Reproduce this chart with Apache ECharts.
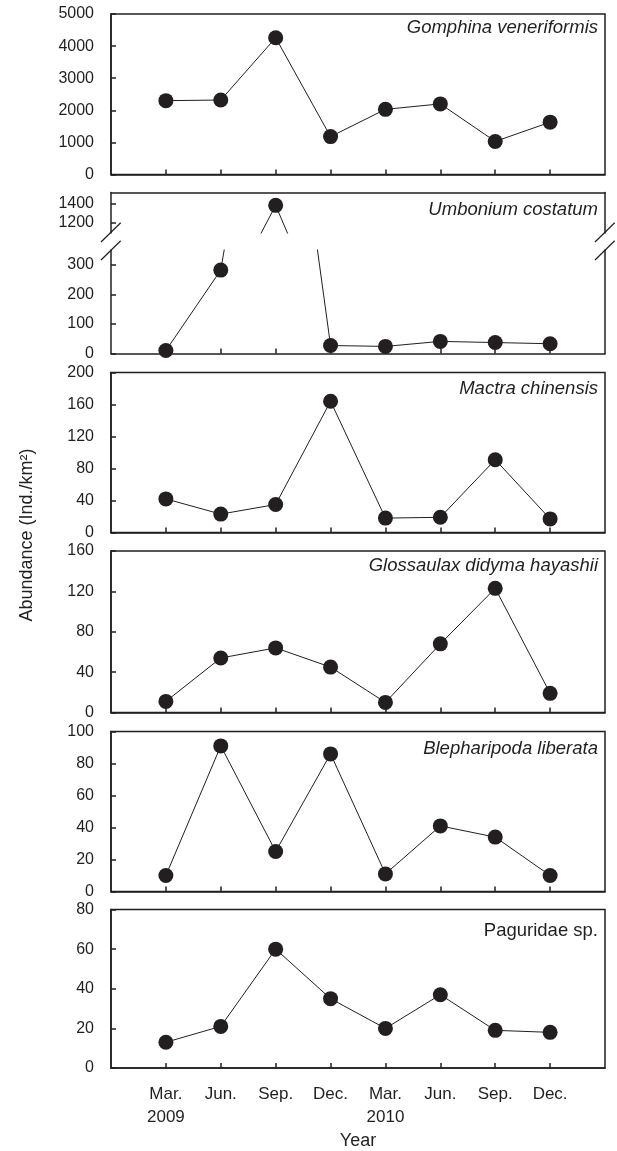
<!DOCTYPE html>
<html>
<head>
<meta charset="utf-8">
<script src="https://cdn.jsdelivr.net/npm/echarts@6/dist/echarts.min.js"></script>
<style>
html,body{margin:0;padding:0;background:#fff;}
#chart{width:617px;height:1151px;}
</style>
</head>
<body>
<div id="chart"></div>
<script>
// ---- data ----
const months = ['Mar.\n2009', 'Jun.', 'Sep.', 'Dec.', 'Mar.\n2010', 'Jun.', 'Sep.', 'Dec.'];
const gomphina = [2300, 2320, 4260, 1180, 2030, 2200, 1030, 1630];
const umbonium = [10, 282, 1380, 27, 24, 41, 37, 33];
const mactra = [42, 23, 35, 164, 18, 19, 91, 17];
const glossaulax = [11, 54, 64, 45, 10, 68, 123, 19];
const blepharipoda = [10, 91, 25, 86, 11, 41, 34, 10];
const paguridae = [13, 21, 60, 35, 20, 37, 19, 18];

const ticksGomphina = [0, 1000, 2000, 3000, 4000, 5000];
const ticksUmbUpper = [1200, 1400];
const ticksUmbLower = [0, 100, 200, 300];
const ticksMactra = [0, 40, 80, 120, 160, 200];
const ticksGloss = [0, 40, 80, 120, 160];
const ticksBleph = [0, 20, 40, 60, 80, 100];
const ticksPag = [0, 20, 40, 60, 80];
const xTicks = [1, 2, 3, 4, 5, 6, 7, 8];

const speciesNames = ['Gomphina veneriformis', 'Umbonium costatum', 'Mactra chinensis',
  'Glossaulax didyma hayashii', 'Blepharipoda liberata', 'Paguridae sp.'];

// ---- layout ----
const FONT = "'Liberation Sans', Arial, sans-serif";
const INK = '#231f20';
const LEFT = 111, RIGHT = 605;
const W = RIGHT - LEFT;

const chart = echarts.init(document.getElementById('chart'), null, {renderer: 'canvas'});

const grids = [], xAxes = [], yAxes = [], series = [], graphics = [];

function pts(arr) { return arr.map((v, i) => [i + 1, v]); }

function addGrid(top, bottom, border) {
  grids.push({left: LEFT, width: W, top: top, height: bottom - top,
    show: border, borderColor: INK, borderWidth: 1.5, backgroundColor: 'transparent'});
  return grids.length - 1;
}

function addX(gi, opts) {
  const base = {
    gridIndex: gi, type: 'value', min: 0, max: 9, interval: 1,
    position: 'bottom',
    axisLine: {show: true, lineStyle: {color: INK, width: 1.5}},
    axisTick: {show: true, inside: true, length: 5, customValues: xTicks, lineStyle: {color: INK, width: 1.5}},
    axisLabel: {show: false},
    splitLine: {show: false}
  };
  xAxes.push(Object.assign(base, opts || {}));
  return xAxes.length - 1;
}

function addY(gi, min, max, ticks, opts) {
  const base = {
    gridIndex: gi, type: 'value', min: min, max: max,
    axisLine: {show: true, lineStyle: {color: INK, width: 1.5}},
    axisTick: {show: true, inside: true, length: 5, customValues: ticks, lineStyle: {color: INK, width: 1.5}},
    axisLabel: {show: true, customValues: ticks, margin: 17, fontSize: 16, color: INK, fontFamily: FONT,
      formatter: function (v) { return String(v); }},
    splitLine: {show: false}
  };
  yAxes.push(Object.assign(base, opts || {}));
  return yAxes.length - 1;
}

function addSeries(xi, yi, data) {
  series.push({
    type: 'line', xAxisIndex: xi, yAxisIndex: yi, data: pts(data),
    clip: true, symbol: 'circle', symbolSize: 15,
    lineStyle: {color: INK, width: 1},
    itemStyle: {color: INK},
    animation: false, z: 3
  });
}

function addTitle(text, y, italic) {
  graphics.push({type: 'text', x: 598, y: y, z: 10,
    style: {text: text, fontSize: 18.5, fontStyle: italic ? 'italic' : 'normal', fontFamily: FONT,
      fill: INK, textAlign: 'right', textVerticalAlign: 'middle'}});
}

// Panel 1
let g = addGrid(14, 174.5, true);
let xi = addX(g);
let yi = addY(g, 0, 5000, ticksGomphina);
addSeries(xi, yi, gomphina);
addTitle(speciesNames[0], 27.5, true);

// Panel 2 (broken axis): upper part
const UP_TOP = 192.5, UP_BOT = 233, LO_TOP = 250, LO_BOT = 353.5;
g = addGrid(UP_TOP, UP_BOT, false);
xi = addX(g, {position: 'top', axisTick: {show: false}});
yi = addY(g, 1090, 1515, ticksUmbUpper);
addY(g, 1090, 1515, [], {position: 'right', axisTick: {show: false}, axisLabel: {show: false}});
addSeries(xi, yi, umbonium);
// lower part
g = addGrid(LO_TOP, LO_BOT, false);
xi = addX(g);
yi = addY(g, 0, 350, ticksUmbLower);
addY(g, 0, 350, [], {position: 'right', axisTick: {show: false}, axisLabel: {show: false}});
addSeries(xi, yi, umbonium);
addTitle(speciesNames[1], 210, true);
// break marks
[LEFT, RIGHT].forEach(function (bx) {
  [[242, 222.7], [260, 240.7]].forEach(function (yy) {
    graphics.push({type: 'line', z: 10,
      shape: {x1: bx - 10, y1: yy[0], x2: bx + 9.7, y2: yy[1]},
      style: {stroke: INK, lineWidth: 1.2}});
  });
});

// Panel 3
g = addGrid(372.5, 532.5, true);
xi = addX(g);
yi = addY(g, 0, 200, ticksMactra);
addSeries(xi, yi, mactra);
addTitle(speciesNames[2], 388.5, true);

// Panel 4
g = addGrid(551, 712.5, true);
xi = addX(g);
yi = addY(g, 0, 160, ticksGloss);
addSeries(xi, yi, glossaulax);
addTitle(speciesNames[3], 566, true);

// Panel 5
g = addGrid(731.5, 891.5, true);
xi = addX(g);
yi = addY(g, 0, 100, ticksBleph);
addSeries(xi, yi, blepharipoda);
addTitle(speciesNames[4], 748.5, true);

// Panel 6
g = addGrid(909.5, 1070, true);
xi = addX(g, {
  axisLabel: {show: true, customValues: xTicks, margin: 15, fontSize: 17, lineHeight: 23,
    color: INK, fontFamily: FONT, formatter: function (v) { return months[v - 1] || ''; }},
  name: 'Year', nameLocation: 'middle', nameGap: 64,
  nameTextStyle: {fontSize: 18, color: INK, fontFamily: FONT}
});
yi = addY(g, 0, 80, ticksPag);
addSeries(xi, yi, paguridae);
addTitle(speciesNames[5], 931, false);

// Y axis title
graphics.push({type: 'text', x: 27, y: 535, rotation: Math.PI / 2, z: 10,
  style: {text: 'Abundance (Ind./km²)', fontSize: 18, fontFamily: FONT, fill: INK,
    textAlign: 'center', textVerticalAlign: 'middle'}});

chart.setOption({
  animation: false,
  backgroundColor: '#ffffff',
  grid: grids,
  xAxis: xAxes,
  yAxis: yAxes,
  series: series,
  graphic: graphics
});
</script>
</body>
</html>
